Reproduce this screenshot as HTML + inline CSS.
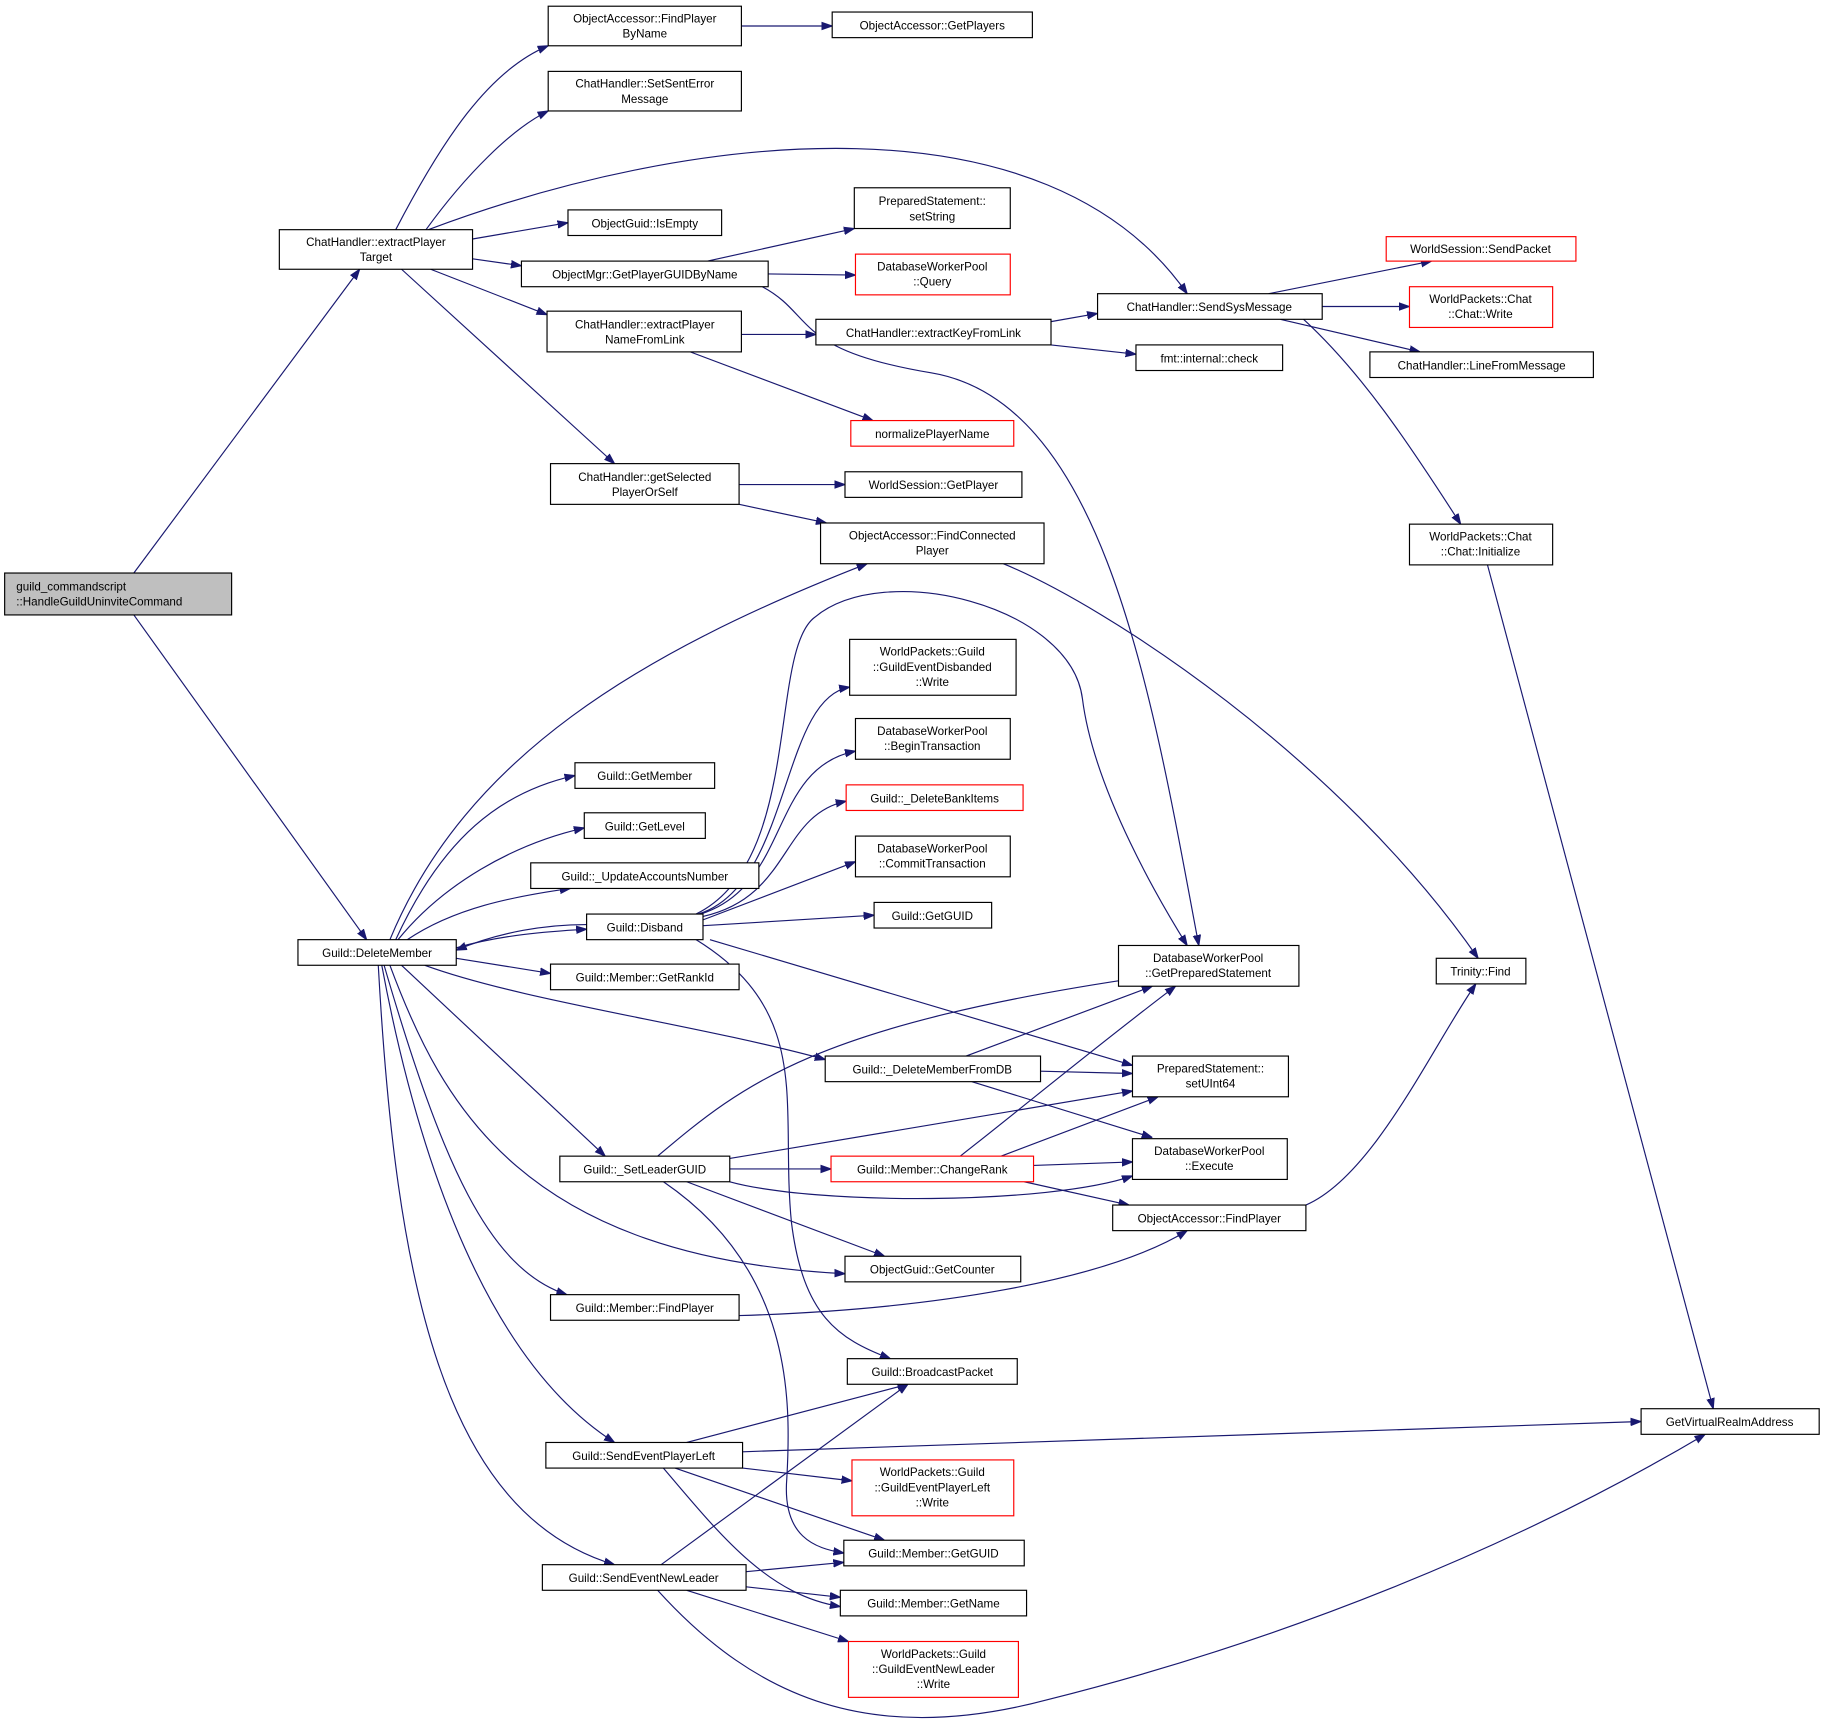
<!DOCTYPE html>
<html><head><meta charset="utf-8"><style>
html,body{margin:0;padding:0;background:#fff;}
svg{display:block;}
text{font-family:"Liberation Sans",sans-serif;font-size:10px;fill:#000;text-anchor:middle;}
.n{fill:#fff;stroke:#000;stroke-width:1;}
.r{fill:#fff;stroke:#f00;stroke-width:1;}
.e{fill:none;stroke:#191970;stroke-width:1;}
</style></head><body>
<svg width="1825" height="1735" viewBox="0 0 1568 1490" xmlns="http://www.w3.org/2000/svg">
<defs><marker id="a" viewBox="0 0 10 10" refX="10" refY="5" markerWidth="9" markerHeight="9" markerUnits="userSpaceOnUse" orient="auto"><path d="M0,1.5 L10,5 L0,8.5z" fill="#191970" stroke="#191970"/></marker></defs>
<g marker-end="url(#a)">
<path class="e" d="M115,492 L309,231"/>
<path class="e" d="M115,528 L315,807"/>
<path class="e" d="M340,197 C380,120 420,60 471,39"/>
<path class="e" d="M366,197 C400,150 440,110 471,95"/>
<path class="e" d="M368,197 C600,110 900,80 1020,252"/>
<path class="e" d="M406,205 L488,191"/>
<path class="e" d="M406,222 L448,228"/>
<path class="e" d="M370,231 L470,270"/>
<path class="e" d="M345,231 L528,398"/>
<path class="e" d="M637,22 L715,22"/>
<path class="e" d="M608,224 L734,196"/>
<path class="e" d="M660,235 L735,236"/>
<path class="e" d="M655,246 C700,270 680,300 800,320 C950,345 990,600 1030,812"/>
<path class="e" d="M637,287 L701,287"/>
<path class="e" d="M593,302 L750,361"/>
<path class="e" d="M903,276 L943,269"/>
<path class="e" d="M903,296 L976,304"/>
<path class="e" d="M1090,252 L1230,224"/>
<path class="e" d="M1136,263 L1211,263"/>
<path class="e" d="M1100,274 L1220,302"/>
<path class="e" d="M1120,274 C1170,320 1210,380 1255,450"/>
<path class="e" d="M1278,485 L1472,1210"/>
<path class="e" d="M635,416 L726,416"/>
<path class="e" d="M635,433 L710,449"/>
<path class="e" d="M862,484 C950,520 1150,650 1270,823"/>
<path class="e" d="M335,807 C400,650 550,560 745,484"/>
<path class="e" d="M340,807 C380,720 430,680 494,666"/>
<path class="e" d="M342,807 C380,760 440,725 502,711"/>
<path class="e" d="M350,807 C390,780 440,770 490,763"/>
<path class="e" d="M392,814 C430,803 470,800 504,798"/>
<path class="e" d="M504,794 C470,794 430,800 392,816"/>
<path class="e" d="M392,823 L473,836"/>
<path class="e" d="M365,829 C450,860 600,880 709,910"/>
<path class="e" d="M345,829 L520,993"/>
<path class="e" d="M335,829 C380,950 450,1080 726,1094"/>
<path class="e" d="M330,829 C380,1000 420,1090 487,1112"/>
<path class="e" d="M328,829 C360,1000 420,1170 528,1239"/>
<path class="e" d="M325,829 C340,1100 380,1300 528,1344"/>
<path class="e" d="M600,785 C680,760 670,600 730,590"/>
<path class="e" d="M602,785 C680,760 660,660 735,645"/>
<path class="e" d="M604,787 C680,770 670,700 727,688"/>
<path class="e" d="M604,790 L735,740"/>
<path class="e" d="M604,795 L751,786"/>
<path class="e" d="M598,785 C690,740 660,560 700,530 C760,480 920,520 930,600 C940,680 1000,780 1020,812"/>
<path class="e" d="M610,807 L973,915"/>
<path class="e" d="M598,807 C700,870 670,950 680,1050 C690,1130 720,1150 765,1167"/>
<path class="e" d="M830,907 L990,847"/>
<path class="e" d="M894,920 L973,922"/>
<path class="e" d="M835,929 L990,977"/>
<path class="e" d="M565,993 C640,930 700,880 990,838"/>
<path class="e" d="M627,995 L973,937"/>
<path class="e" d="M627,1004 L714,1004"/>
<path class="e" d="M627,1015 C700,1035 900,1035 973,1010"/>
<path class="e" d="M590,1015 L760,1079"/>
<path class="e" d="M570,1015 C680,1090 680,1200 676,1270 C672,1320 700,1330 725,1334"/>
<path class="e" d="M825,993 C880,950 940,900 1010,847"/>
<path class="e" d="M860,993 L995,942"/>
<path class="e" d="M888,1001 L973,998"/>
<path class="e" d="M880,1015 L970,1035"/>
<path class="e" d="M1122,1035 C1180,1010 1230,900 1268,845"/>
<path class="e" d="M635,1130 C800,1125 950,1100 1020,1057"/>
<path class="e" d="M590,1239 L780,1189"/>
<path class="e" d="M638,1247 L1410,1221"/>
<path class="e" d="M638,1261 L732,1272"/>
<path class="e" d="M580,1261 L760,1323"/>
<path class="e" d="M570,1261 C620,1320 660,1370 722,1380"/>
<path class="e" d="M568,1344 L780,1189"/>
<path class="e" d="M641,1350 L725,1342"/>
<path class="e" d="M641,1363 L722,1372"/>
<path class="e" d="M590,1366 L729,1410"/>
<path class="e" d="M565,1366 C650,1460 750,1500 900,1460 C1100,1410 1300,1330 1465,1232"/>
</g>
<rect x="4" y="492" width="195" height="36" fill="#bfbfbf" stroke="#000"/>
<text x="14" y="507" style="text-anchor:start">guild_commandscript</text>
<text x="14" y="520" style="text-anchor:start">::HandleGuildUninviteCommand</text>
<g>
<rect class="n" x="240" y="197" width="166" height="34"/><text x="323" y="211">ChatHandler::extractPlayer</text><text x="323" y="224">Target</text>
<rect class="n" x="471" y="5" width="166" height="34"/><text x="554" y="19">ObjectAccessor::FindPlayer</text><text x="554" y="32">ByName</text>
<rect class="n" x="715" y="10" width="172" height="22"/><text x="801" y="25">ObjectAccessor::GetPlayers</text>
<rect class="n" x="471" y="61" width="166" height="34"/><text x="554" y="75">ChatHandler::SetSentError</text><text x="554" y="88">Message</text>
<rect class="n" x="488" y="180" width="132" height="22"/><text x="554" y="195">ObjectGuid::IsEmpty</text>
<rect class="n" x="448" y="224" width="212" height="22"/><text x="554" y="239">ObjectMgr::GetPlayerGUIDByName</text>
<rect class="n" x="734" y="161" width="134" height="35"/><text x="801" y="176">PreparedStatement::</text><text x="801" y="189">setString</text>
<rect class="r" x="735" y="218" width="133" height="35"/><text x="801" y="232">DatabaseWorkerPool</text><text x="801" y="245">::Query</text>
<rect class="n" x="470" y="267" width="167" height="35"/><text x="554" y="282">ChatHandler::extractPlayer</text><text x="554" y="295">NameFromLink</text>
<rect class="n" x="701" y="274" width="202" height="22"/><text x="802" y="289">ChatHandler::extractKeyFromLink</text>
<rect class="n" x="943" y="252" width="193" height="22"/><text x="1039" y="267">ChatHandler::SendSysMessage</text>
<rect class="r" x="1191" y="203" width="163" height="21"/><text x="1272" y="217">WorldSession::SendPacket</text>
<rect class="r" x="1211" y="246" width="123" height="35"/><text x="1272" y="260">WorldPackets::Chat</text><text x="1272" y="273">::Chat::Write</text>
<rect class="n" x="1177" y="302" width="192" height="22"/><text x="1273" y="317">ChatHandler::LineFromMessage</text>
<rect class="n" x="976" y="296" width="126" height="22"/><text x="1039" y="311">fmt::internal::check</text>
<rect class="r" x="731" y="361" width="140" height="22"/><text x="801" y="376">normalizePlayerName</text>
<rect class="n" x="473" y="398" width="162" height="35"/><text x="554" y="413">ChatHandler::getSelected</text><text x="554" y="426">PlayerOrSelf</text>
<rect class="n" x="726" y="405" width="152" height="22"/><text x="802" y="420">WorldSession::GetPlayer</text>
<rect class="n" x="705" y="449" width="192" height="35"/><text x="801" y="463">ObjectAccessor::FindConnected</text><text x="801" y="476">Player</text>
<rect class="n" x="1211" y="450" width="123" height="35"/><text x="1272" y="464">WorldPackets::Chat</text><text x="1272" y="477">::Chat::Initialize</text>
<rect class="n" x="730" y="549" width="143" height="48"/><text x="801" y="563">WorldPackets::Guild</text><text x="801" y="576">::GuildEventDisbanded</text><text x="801" y="589">::Write</text>
<rect class="n" x="735" y="617" width="133" height="35"/><text x="801" y="631">DatabaseWorkerPool</text><text x="801" y="644">::BeginTransaction</text>
<rect class="r" x="727" y="674" width="152" height="22"/><text x="803" y="689">Guild::_DeleteBankItems</text>
<rect class="n" x="735" y="718" width="133" height="35"/><text x="801" y="732">DatabaseWorkerPool</text><text x="801" y="745">::CommitTransaction</text>
<rect class="n" x="751" y="775" width="101" height="22"/><text x="801" y="790">Guild::GetGUID</text>
<rect class="n" x="494" y="655" width="120" height="22"/><text x="554" y="670">Guild::GetMember</text>
<rect class="n" x="502" y="698" width="104" height="22"/><text x="554" y="713">Guild::GetLevel</text>
<rect class="n" x="456" y="741" width="196" height="22"/><text x="554" y="756">Guild::_UpdateAccountsNumber</text>
<rect class="n" x="504" y="785" width="100" height="22"/><text x="554" y="800">Guild::Disband</text>
<rect class="n" x="256" y="807" width="136" height="22"/><text x="324" y="822">Guild::DeleteMember</text>
<rect class="n" x="473" y="828" width="162" height="22"/><text x="554" y="843">Guild::Member::GetRankId</text>
<rect class="n" x="961" y="812" width="155" height="35"/><text x="1038" y="826">DatabaseWorkerPool</text><text x="1038" y="839">::GetPreparedStatement</text>
<rect class="n" x="1234" y="823" width="77" height="22"/><text x="1272" y="838">Trinity::Find</text>
<rect class="n" x="709" y="907" width="185" height="22"/><text x="801" y="922">Guild::_DeleteMemberFromDB</text>
<rect class="n" x="973" y="907" width="134" height="35"/><text x="1040" y="921">PreparedStatement::</text><text x="1040" y="934">setUInt64</text>
<rect class="n" x="481" y="993" width="146" height="22"/><text x="554" y="1008">Guild::_SetLeaderGUID</text>
<rect class="r" x="714" y="993" width="174" height="22"/><text x="801" y="1008">Guild::Member::ChangeRank</text>
<rect class="n" x="973" y="978" width="133" height="35"/><text x="1039" y="992">DatabaseWorkerPool</text><text x="1039" y="1005">::Execute</text>
<rect class="n" x="956" y="1035" width="166" height="22"/><text x="1039" y="1050">ObjectAccessor::FindPlayer</text>
<rect class="n" x="726" y="1079" width="151" height="22"/><text x="801" y="1094">ObjectGuid::GetCounter</text>
<rect class="n" x="473" y="1112" width="162" height="22"/><text x="554" y="1127">Guild::Member::FindPlayer</text>
<rect class="n" x="728" y="1167" width="146" height="22"/><text x="801" y="1182">Guild::BroadcastPacket</text>
<rect class="n" x="1410" y="1210" width="153" height="22"/><text x="1486" y="1225">GetVirtualRealmAddress</text>
<rect class="n" x="469" y="1239" width="169" height="22"/><text x="553" y="1254">Guild::SendEventPlayerLeft</text>
<rect class="r" x="732" y="1254" width="139" height="48"/><text x="801" y="1268">WorldPackets::Guild</text><text x="801" y="1281">::GuildEventPlayerLeft</text><text x="801" y="1294">::Write</text>
<rect class="n" x="725" y="1323" width="155" height="22"/><text x="802" y="1338">Guild::Member::GetGUID</text>
<rect class="n" x="466" y="1344" width="175" height="22"/><text x="553" y="1359">Guild::SendEventNewLeader</text>
<rect class="n" x="722" y="1366" width="160" height="22"/><text x="802" y="1381">Guild::Member::GetName</text>
<rect class="r" x="729" y="1410" width="146" height="48"/><text x="802" y="1424">WorldPackets::Guild</text><text x="802" y="1437">::GuildEventNewLeader</text><text x="802" y="1450">::Write</text>
</g>
</svg>
</body></html>
